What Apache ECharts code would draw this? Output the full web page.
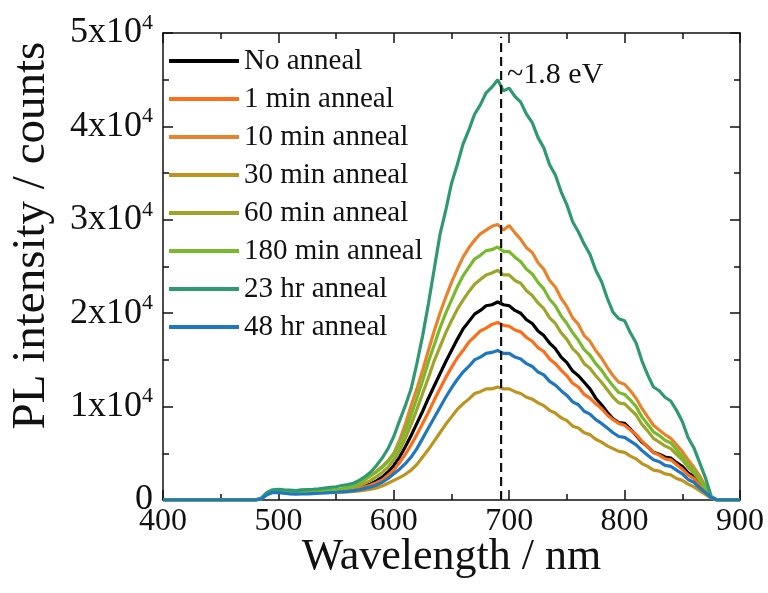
<!DOCTYPE html>
<html>
<head>
<meta charset="utf-8">
<script src="https://cdn.jsdelivr.net/npm/echarts@6/dist/echarts.min.js"></script>
<style>
html,body{margin:0;padding:0;background:#fff;}
#chart{width:768px;height:593px;}
</style>
</head>
<body>
<div id="chart"></div>
<script>
// Wavelength grid (nm)
const wavelengths = [400, 480, 485, 490, 495,
  500, 505, 510, 515, 520, 525, 530, 535, 540, 545,
  550, 555, 560, 565, 570, 575, 580, 585, 590, 595,
  600, 605, 610, 615, 620, 625, 630, 635, 640, 645,
  650, 655, 660, 665, 670, 675, 680, 685, 690, 695,
  700, 705, 710, 715, 720, 725, 730, 735, 740, 745,
  750, 755, 760, 765, 770, 775, 780, 785, 790, 795,
  800, 805, 810, 815, 820, 825, 830, 835, 840, 845,
  850, 855, 860, 865, 870, 875, 880, 900];

const seriesNames = ['No anneal', '1 min anneal', '10 min anneal', '30 min anneal',
  '60 min anneal', '180 min anneal', '23 hr anneal', '48 hr anneal'];

const noAnneal = [0, 0, 130, 650, 900,
  880, 820, 780, 740, 760, 790, 810, 840, 870, 910,
  960, 1020, 1100, 1200, 1350, 1500, 1750, 2050, 2450, 3000,
  3700, 4600, 5700, 6900, 8200, 9500, 10900, 12200, 13500, 14800,
  16000, 17200, 18300, 19100, 19900, 20300, 20800, 20900, 21200, 20900,
  20800, 20300, 20000, 19300, 18900, 18100, 17600, 16800, 16200, 15300,
  14700, 13800, 13300, 12600, 11900, 10900, 10200, 9400, 8700, 8300,
  8200, 7600, 6900, 6200, 5700, 5100, 4900, 4600, 4500, 4000,
  3600, 2900, 2500, 1800, 1000, 300, 0, 0];

const anneal1min = [0, 0, 120, 620, 880,
  860, 800, 760, 720, 740, 770, 790, 820, 850, 890,
  930, 980, 1050, 1150, 1250, 1400, 1600, 1850, 2150, 2650,
  3200, 4000, 4900, 5900, 7000, 8200, 9400, 10700, 11900, 13100,
  14200, 15200, 16000, 16900, 17500, 18100, 18400, 18800, 19000, 18700,
  18600, 18200, 18000, 17400, 17000, 16300, 15900, 15100, 14600, 13900,
  13300, 12500, 12100, 11300, 10900, 10300, 9800, 9100, 8600, 8200,
  8000, 7500, 7000, 6300, 5700, 5100, 4800, 4400, 4300, 3800,
  3300, 2700, 2300, 1600, 1000, 300, 0, 0];

const anneal10min = [0, 0, 150, 720, 960,
  940, 880, 840, 800, 820, 850, 880, 910, 950, 1000,
  1070, 1150, 1300, 1500, 1800, 2200, 2600, 3100, 3600, 4200,
  5000, 6400, 8100, 10100, 11900, 13900, 16000, 18100, 20000, 21700,
  23300, 24700, 26000, 27000, 27800, 28500, 28900, 29300, 29500, 28900,
  29400, 28600, 27900, 27000, 26500, 25400, 24700, 23500, 22800, 21600,
  20700, 19500, 18800, 17600, 17000, 16000, 15200, 14200, 13300, 12600,
  12400, 11700, 10900, 9800, 8900, 8000, 7500, 7000, 6600, 5900,
  5200, 4300, 3500, 2600, 1500, 300, 0, 0];

const anneal30min = [0, 0, 120, 600, 850,
  830, 770, 730, 700, 710, 730, 750, 770, 790, 810,
  830, 850, 870, 920, 980, 1060, 1150, 1300, 1500, 1800,
  2100, 2400, 2750, 3200, 3800, 4600, 5400, 6300, 7200, 8100,
  8900, 9700, 10300, 10800, 11400, 11600, 11900, 11900, 12100, 11900,
  11900, 11600, 11400, 11000, 10800, 10400, 10100, 9600, 9300, 8800,
  8500, 7900, 7700, 7200, 7000, 6500, 6200, 5800, 5500, 5200,
  5100, 4700, 4400, 3900, 3600, 3200, 3100, 2800, 2700, 2300,
  2100, 1700, 1400, 1000, 600, 200, 0, 0];

const anneal60min = [0, 0, 140, 700, 950,
  930, 870, 830, 800, 820, 850, 870, 900, 930, 980,
  1030, 1100, 1200, 1350, 1550, 1800, 2100, 2500, 2950, 3500,
  4300, 5300, 6600, 8100, 9700, 11400, 13100, 14900, 16400, 17900,
  19200, 20400, 21400, 22300, 23100, 23600, 24100, 24300, 24600, 24100,
  24100, 23500, 23200, 22400, 21900, 21100, 20500, 19500, 18900, 17900,
  17200, 16200, 15600, 14600, 14100, 13300, 12600, 11800, 11000, 10400,
  10300, 9700, 9100, 8100, 7400, 6600, 6200, 5800, 5500, 4900,
  4300, 3500, 2900, 2100, 1200, 300, 0, 0];

const anneal180min = [0, 0, 150, 750, 1000,
  980, 920, 880, 850, 870, 900, 930, 960, 1000, 1050,
  1120, 1200, 1350, 1550, 1850, 2200, 2600, 3000, 3500, 4100,
  4900, 6000, 7400, 9100, 10900, 12800, 14800, 16600, 18400, 20000,
  21400, 22800, 24000, 24900, 25800, 26200, 26700, 26800, 27100, 26600,
  26600, 26000, 25500, 24700, 24200, 23300, 22600, 21500, 20800, 19700,
  18900, 17900, 17100, 16100, 15500, 14600, 13900, 13000, 12200, 11500,
  11300, 10700, 10000, 8900, 8100, 7300, 6900, 6400, 6100, 5400,
  4700, 3800, 3200, 2300, 1400, 300, 0, 0];

const anneal23hr = [0, 0, 180, 800, 1100,
  1150, 1080, 1050, 1000, 1080, 1120, 1150, 1200, 1280, 1350,
  1420, 1550, 1650, 1800, 2100, 2500, 3000, 3700, 4500, 5500,
  6800, 8500, 10100, 11900, 14600, 17600, 21000, 24700, 28400, 31000,
  33900, 35900, 38100, 39600, 41300, 42300, 43600, 44200, 45000, 43800,
  44100, 43200, 42600, 41300, 40400, 38800, 37700, 35900, 34800, 33000,
  31600, 29800, 28700, 27400, 26300, 24600, 23400, 21600, 20100, 19400,
  19200, 17900, 16800, 14900, 13400, 12100, 11700, 11000, 10600, 9600,
  8400, 6700, 5600, 4000, 2400, 400, 0, 0];

const anneal48hr = [0, 0, 110, 550, 800,
  780, 720, 660, 620, 640, 660, 690, 720, 750, 790,
  830, 880, 930, 1000, 1100, 1250, 1400, 1600, 1900, 2300,
  2800, 3300, 3900, 4600, 5500, 6600, 7700, 8800, 9900, 11000,
  12000, 12900, 13700, 14300, 15000, 15300, 15700, 15800, 16000, 15700,
  15700, 15300, 15100, 14600, 14300, 13700, 13400, 12700, 12300, 11700,
  11200, 10500, 10200, 9500, 9200, 8600, 8200, 7700, 7200, 6800,
  6700, 6300, 5900, 5300, 4800, 4300, 4100, 3700, 3600, 3200,
  2800, 2200, 1900, 1300, 800, 250, 0, 0];

const seriesValues = [noAnneal, anneal1min, anneal10min, anneal30min,
  anneal60min, anneal180min, anneal23hr, anneal48hr];

const seriesColors = ['#000000', '#fb6e1a', '#e8832c', '#bd9420',
  '#9ea52a', '#79b92e', '#2f9a72', '#1f77bf'];

// Peak marker
const peakWavelength = [693];
const peakLineY = [0, 49600];
const peakLabel = '~1.8 eV';
const peakLabelY = [45500];

// Axis ticks
const xTicks = [400, 500, 600, 700, 800, 900];
const yTicks = [0, 10000, 20000, 30000, 40000, 50000];
const yTickMantissa = ['0', '1x10', '2x10', '3x10', '4x10', '5x10'];
const yTickExponent = ['', '4', '4', '4', '4', '4'];

const FONT = "'Liberation Serif', 'Times New Roman', serif";
const INK = '#111111';

const chart = echarts.init(document.getElementById('chart'), null, {renderer: 'canvas'});

const lineSeries = seriesNames.map((name, k) => ({
  name: name,
  type: 'line',
  xAxisIndex: 0,
  yAxisIndex: 0,
  showSymbol: false,
  symbol: 'none',
  smooth: false,
  z: 2 + k,
  lineStyle: {width: 3.2, color: seriesColors[k]},
  itemStyle: {color: seriesColors[k]},
  data: wavelengths.map((w, i) => [w, seriesValues[k][i]])
}));

function axisCommon() {
  return {
    axisLine: {show: true, onZero: false, lineStyle: {color: INK, width: 1.5}},
    axisTick: {show: true, inside: true, length: 10, lineStyle: {color: INK, width: 1.5}},
    minorTick: {show: true, splitNumber: 2, length: 6, lineStyle: {color: INK, width: 1.5}},
    splitLine: {show: false}
  };
}

const option = {
  animation: false,
  backgroundColor: '#ffffff',
  grid: {left: 160, right: 28, top: 33, bottom: 93, containLabel: false},
  legend: {
    data: seriesNames,
    orient: 'vertical',
    left: 164,
    top: 41,
    icon: 'rect',
    itemWidth: 70,
    itemHeight: 4,
    itemGap: 8,
    textStyle: {fontFamily: FONT, fontSize: 29, color: INK, lineHeight: 30}
  },
  xAxis: [
    Object.assign(axisCommon(), {
      type: 'value', position: 'bottom', min: 400, max: 900, interval: 100,
      name: 'Wavelength / nm', nameLocation: 'middle', nameGap: 35,
      nameMoveOverlap: false,
      nameTextStyle: {fontFamily: FONT, fontSize: 44, color: INK},
      axisLabel: {show: true, margin: 6, fontFamily: FONT, fontSize: 32, color: INK,
        formatter: v => xTicks.indexOf(v) >= 0 ? String(v) : ''}
    }),
    Object.assign(axisCommon(), {
      type: 'value', position: 'top', min: 400, max: 900, interval: 100,
      axisLabel: {show: false}
    })
  ],
  yAxis: [
    Object.assign(axisCommon(), {
      type: 'value', position: 'left', min: 0, max: 50000, interval: 10000,
      name: 'PL intensity / counts', nameLocation: 'middle', nameGap: 108,
      nameTextStyle: {fontFamily: FONT, fontSize: 47, color: INK, padding: [0, 0, 0, 62]},
      axisLabel: {
        show: true, margin: 10,
        formatter: v => {
          const i = yTicks.indexOf(v);
          if (i < 0) return '';
          return yTickExponent[i]
            ? '{m|' + yTickMantissa[i] + '}{e|' + yTickExponent[i] + '}'
            : '{m|' + yTickMantissa[i] + '}';
        },
        rich: {
          m: {fontFamily: FONT, fontSize: 36, color: INK, lineHeight: 42},
          e: {fontFamily: FONT, fontSize: 22, color: INK, lineHeight: 42, verticalAlign: 'top'}
        }
      }
    }),
    Object.assign(axisCommon(), {
      type: 'value', position: 'right', min: 0, max: 50000, interval: 10000,
      axisLabel: {show: false}
    })
  ],
  series: lineSeries.concat([
    {
      name: 'peak',
      type: 'line',
      symbol: 'none',
      silent: true,
      z: 20,
      lineStyle: {color: '#111', width: 2.2, type: [9, 5]},
      data: peakLineY.map(y => [peakWavelength[0], y])
    },
    {
      name: 'peakLabel',
      type: 'scatter',
      symbolSize: 0,
      silent: true,
      z: 21,
      itemStyle: {color: INK},
      label: {show: true, position: 'right', distance: 6, formatter: peakLabel,
        fontFamily: FONT, fontSize: 30, color: INK, opacity: 1},
      data: peakLabelY.map(y => [peakWavelength[0], y])
    }
  ])
};

chart.setOption(option);
</script>
</body>
</html>
